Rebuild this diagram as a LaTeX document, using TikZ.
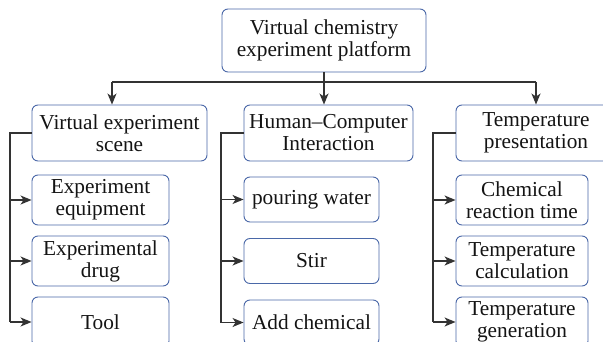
\documentclass[tikz,border=0pt]{standalone}
\usepackage{fontspec}
\setmainfont{Liberation Serif}
\usetikzlibrary{arrows.meta}
\definecolor{boxblue}{HTML}{4A68A8}
\definecolor{linegray}{HTML}{333333}
\definecolor{txt}{HTML}{141414}
\begin{document}
\begin{tikzpicture}[x=1pt,y=-1pt,
  box/.style={draw=boxblue,line width=0.9pt,rounded corners=6pt,fill=white,
    align=center,inner sep=0pt,text=txt,font=\fontsize{21.3}{22}\selectfont},
  conn/.style={draw=linegray,line width=1.3pt},
  arr/.style={conn,-{Stealth[length=11pt,width=9pt,inset=3pt]}}]
\useasboundingbox (0,0) rectangle (603,342);
% top
\node[box,minimum width=204pt,minimum height=63pt] (top) at (324,40.5)
  {Virtual chemistry\\experiment platform};
% level 2
\node[box,minimum width=175pt,minimum height=56pt] (L) at (119.5,133)
  {Virtual experiment\\scene};
\node[box,minimum width=169pt,minimum height=56pt] (M) at (328.5,133)
  {Human--Computer\\Interaction};
\node[box,minimum width=160pt,minimum height=56pt] (R) at (536,133)
  {Temperature\\presentation};
% left column
\node[box,minimum width=137pt,minimum height=50pt] (L1) at (100.5,200)
  {Experiment\\equipment};
\node[box,minimum width=137pt,minimum height=50pt] (L2) at (100.5,261)
  {Experimental\\drug};
\node[box,minimum width=137pt,minimum height=50pt] (L3) at (100.5,322)
  {Tool};
% middle column
\node[box,minimum width=135pt,minimum height=45pt] (M1) at (311.5,199.5)
  {pouring water};
\node[box,minimum width=135pt,minimum height=45pt] (M2) at (311.5,261)
  {Stir};
\node[box,minimum width=135pt,minimum height=45pt] (M3) at (311.5,322.5)
  {Add chemical};
% right column
\node[box,minimum width=132pt,minimum height=50pt] (R1) at (522,200)
  {Chemical\\reaction time};
\node[box,minimum width=132pt,minimum height=50pt] (R2) at (522,261)
  {Temperature\\calculation};
\node[box,minimum width=132pt,minimum height=50pt] (R3) at (522,322)
  {Temperature\\generation};
% top connectors
\coordinate (bus) at (324,82);
\coordinate (bL) at (112,82);
\coordinate (bR) at (536,82);
\draw[conn] (top.south) -- (bus);
\draw[conn] (bL) -- (bR);
\draw[arr] (bL) -- (bL |- L.north);
\draw[arr] (bus) -- (bus |- M.north);
\draw[arr] (bR) -- (R.north);
% left bus
\coordinate (vL) at (10,133);
\draw[conn] (L.west) -- (vL) -- (vL |- L3.west);
\draw[arr] (vL |- L1.west) -- (L1.west);
\draw[arr] (vL |- L2.west) -- (L2.west);
\draw[arr] (vL |- L3.west) -- (L3.west);
% middle bus
\coordinate (vM) at (221,133);
\draw[conn] (M.west) -- (vM) -- (vM |- M3.west);
\draw[arr] (vM |- M1.west) -- (M1.west);
\draw[arr] (vM |- M2.west) -- (M2.west);
\draw[arr] (vM |- M3.west) -- (M3.west);
% right bus
\coordinate (vR) at (433,133);
\draw[conn] (R.west) -- (vR) -- (vR |- R3.west);
\draw[arr] (vR |- R1.west) -- (R1.west);
\draw[arr] (vR |- R2.west) -- (R2.west);
\draw[arr] (vR |- R3.west) -- (R3.west);
\end{tikzpicture}
\end{document}
